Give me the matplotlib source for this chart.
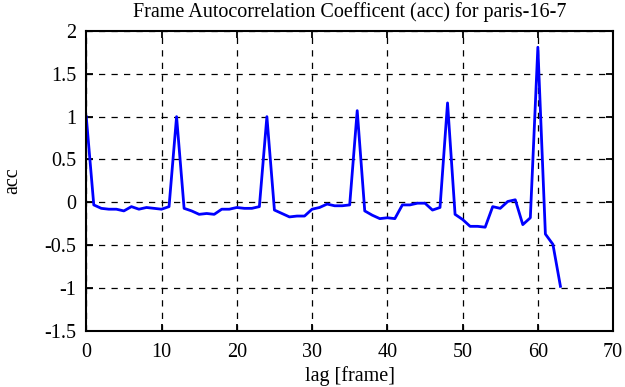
import numpy as np
import matplotlib
matplotlib.use("Agg")
import matplotlib.pyplot as plt

# --- Data ---
lags = np.arange(64)
acc = [
    1.00, -0.03, -0.07, -0.08, -0.08, -0.10, -0.05, -0.08, -0.06, -0.07,
    -0.08, -0.05, 1.00, -0.07, -0.10, -0.14, -0.13, -0.14, -0.08, -0.08,
    -0.06, -0.07, -0.07, -0.05, 1.00, -0.09, -0.13, -0.17, -0.16, -0.16,
    -0.08, -0.06, -0.02, -0.04, -0.04, -0.03, 1.07, -0.10, -0.15, -0.19,
    -0.18, -0.19, -0.03, -0.03, -0.01, -0.01, -0.09, -0.06, 1.16, -0.14,
    -0.20, -0.28, -0.28, -0.29, -0.05, -0.07, 0.01, 0.03, -0.26, -0.18,
    1.81, -0.37, -0.49, -0.98,
]
x_ticks = [0, 10, 20, 30, 40, 50, 60, 70]
y_ticks = [-1.5, -1, -0.5, 0, 0.5, 1, 1.5, 2]
y_tick_labels = ["-1.5", "-1", "-0.5", "0", "0.5", "1", "1.5", "2"]

plt.rcParams['font.family'] = ['Liberation Serif', 'DejaVu Serif']

fig = plt.figure(figsize=(6.25, 3.87), dpi=100)
ax = fig.add_axes([0.138, 0.145, 0.843, 0.775])

ax.plot(lags, acc, color='#0000ff', linewidth=2)

ax.set_xlim(0, 70)
ax.set_ylim(-1.5, 2)
ax.set_xticks(x_ticks)
ax.set_yticks(y_ticks)
ax.set_yticklabels(y_tick_labels)
ax.grid(True, color='black', linestyle=(0, (5, 5)), linewidth=0.9)

ax.tick_params(direction='in', top=True, right=True, length=5, width=1.3,
               labelsize=14.5, colors='black')
ax.tick_params(axis='x', pad=9)
ax.tick_params(axis='y', pad=7)
for s in ax.spines.values():
    s.set_linewidth(1.5)

ax.set_title("Frame Autocorrelation Coefficent (acc) for paris-16-7", fontsize=14.5, pad=10)
ax.set_xlabel("lag [frame]", fontsize=14.5, labelpad=3)
ax.set_ylabel("acc", fontsize=14.5, labelpad=16)

fig.savefig("out.png", dpi=100)
